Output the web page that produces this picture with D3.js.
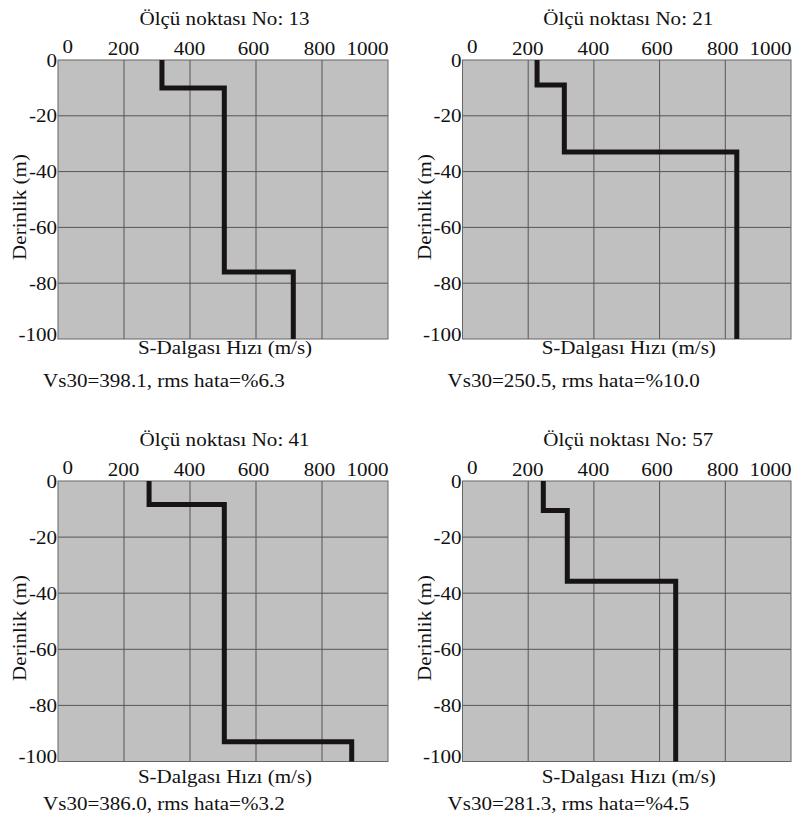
<!DOCTYPE html>
<html>
<head>
<meta charset="utf-8">
<script src="https://cdn.jsdelivr.net/npm/d3@7"></script>
<style>
  body { margin: 0; background: #ffffff; }
  svg text { font-family: "Times New Roman", "Liberation Serif", "DejaVu Serif", serif !important; font-size: 18px !important; fill: #111; }
</style>
</head>
<body>
<svg id="chart" width="795" height="819" font-family="Liberation Serif, serif"></svg>
<script>
// Measurement stations and their summary figures
const stations = ["13", "21", "41", "57"];
const vs30 = ["398.1", "250.5", "386.0", "281.3"];
const rmsError = ["6.3", "10.0", "3.2", "4.5"];

// Layer boundaries (m) and shear-wave velocity of each layer (m/s)
const depths13 = [0, 10, 76, 100];
const velocity13 = [315, 504, 713];
const depths21 = [0, 9, 33, 100];
const velocity21 = [227, 310, 835];
const depths41 = [0, 8.4, 93, 100];
const velocity41 = [276, 504, 890];
const depths57 = [0, 10.5, 35.7, 100];
const velocity57 = [246, 319, 649];

const velocityTicks = [0, 200, 400, 600, 800, 1000];
const depthTicks = [0, -20, -40, -60, -80, -100];

const profiles = [
  { depths: depths13, velocity: velocity13 },
  { depths: depths21, velocity: velocity21 },
  { depths: depths41, velocity: velocity41 },
  { depths: depths57, velocity: velocity57 }
];

// Plot frames of the 2x2 grid
const frames = [
  { x0: 58, x1: 388, y0: 60, y1: 339, titleGap: 12 },
  { x0: 462.5, x1: 791, y0: 60, y1: 339, titleGap: 12 },
  { x0: 58, x1: 388, y0: 481, y1: 761.5, titleGap: 18 },
  { x0: 462.5, x1: 791, y0: 481, y1: 761.5, titleGap: 18 }
];

const SX = 1.17; // horizontal widening of the serif face
const FONT = '"Times New Roman", "Liberation Serif", "DejaVu Serif", serif';
const svg = d3.select("#chart");

function label(parent, x, y, str, anchor, rotate) {
  const g = parent.append("g")
    .attr("transform", `translate(${x},${y})` + (rotate ? ` rotate(${rotate})` : "") + ` scale(${SX},1)`);
  g.append("text")
    .attr("text-anchor", anchor || "middle")
    .style("font-family", FONT)
    .text(str);
  return g;
}

frames.forEach((f, i) => {
  const p = profiles[i];
  const x = d3.scaleLinear().domain([0, 1000]).range([f.x0, f.x1]);
  const y = d3.scaleLinear().domain([0, -100]).range([f.y0, f.y1]);
  const g = svg.append("g");

  // background
  g.append("rect")
    .attr("x", f.x0).attr("y", f.y0)
    .attr("width", f.x1 - f.x0).attr("height", f.y1 - f.y0)
    .attr("fill", "#c0c0c0");

  // grid
  g.append("g").selectAll("line").data(velocityTicks.slice(1, -1)).join("line")
    .attr("x1", d => x(d)).attr("x2", d => x(d))
    .attr("y1", f.y0).attr("y2", f.y1)
    .attr("stroke", "#555").attr("stroke-width", 1);
  g.append("g").selectAll("line").data(depthTicks.slice(1, -1)).join("line")
    .attr("y1", d => y(d)).attr("y2", d => y(d))
    .attr("x1", f.x0).attr("x2", f.x1)
    .attr("stroke", "#555").attr("stroke-width", 1);

  g.append("rect")
    .attr("x", f.x0).attr("y", f.y0)
    .attr("width", f.x1 - f.x0).attr("height", f.y1 - f.y0)
    .attr("fill", "none").attr("stroke", "#666").attr("stroke-width", 1);

  // velocity profile as a step line
  const pts = [];
  p.velocity.forEach((v, k) => {
    pts.push([v, -p.depths[k]]);
    pts.push([v, -p.depths[k + 1]]);
  });
  g.append("path")
    .datum(pts)
    .attr("d", d3.line().x(d => x(d[0])).y(d => y(d[1])))
    .attr("fill", "none")
    .attr("stroke", "#181414")
    .attr("stroke-width", 5)
    .attr("stroke-linejoin", "miter")
    .attr("stroke-linecap", "butt");

  // top velocity axis
  const ax = g.append("g")
    .attr("transform", `translate(0,${f.y0})`)
    .call(d3.axisTop(x).tickValues(velocityTicks).tickFormat(d => String(d)).tickSize(0).tickPadding(0));
  ax.attr("font-family", null).attr("font-size", null);
  ax.select(".domain").remove();
  ax.selectAll("text")
    .attr("y", null).attr("dy", null)
    .style("font-family", FONT)
    .attr("fill", "#111")
    .attr("text-anchor", d => d === 0 ? "start" : d === 1000 ? "end" : "middle")
    .attr("transform", d => {
      const dx = d === 0 ? 4 : d >= 600 && d < 1000 ? -3 : d === 1000 ? 0 : -1;
      const dy = d === 0 ? -7 : -5;
      return `translate(${dx},${dy}) scale(${SX},1)`;
    });

  // left depth axis
  const ay = g.append("g")
    .attr("transform", `translate(${f.x0},0)`)
    .call(d3.axisLeft(y).tickValues(depthTicks).tickFormat(d => String(d)).tickSize(0).tickPadding(0));
  ay.attr("font-family", null).attr("font-size", null);
  ay.select(".domain").remove();
  ay.selectAll("text")
    .attr("x", null).attr("dy", null)
    .style("font-family", FONT)
    .attr("fill", "#111")
    .attr("text-anchor", "end")
    .attr("transform", d => `translate(-1,${d === -100 ? 1 : 6}) scale(${SX},1)`);

  // titles
  const cx = (f.x0 + f.x1) / 2;
  label(g, cx + 1.5, f.y0 - 35, `Ölçü noktası No: ${stations[i]}`);
  label(g, cx + 2, f.y1 + f.titleGap + 3, "S-Dalgası Hızı (m/s)");
  label(g, f.x0 - 15, f.y1 + 48, `Vs30=${vs30[i]}, rms hata=%${rmsError[i]}`, "start");
  label(g, f.x0 - 32, f.y0 + 147, "Derinlik (m)", "middle", -90);
});
</script>
</body>
</html>
